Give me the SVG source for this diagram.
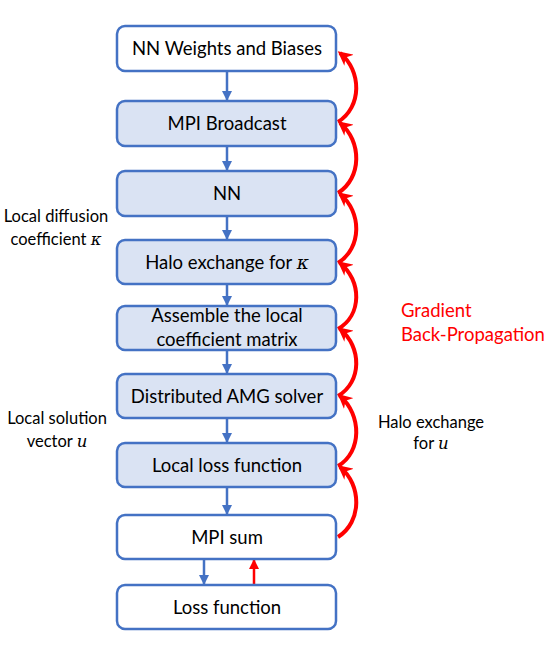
<svg xmlns="http://www.w3.org/2000/svg" width="554" height="656" viewBox="0 0 554 656">
<defs>
<marker id="bh" viewBox="0 0 10 10" refX="9" refY="5" markerWidth="4" markerHeight="4" orient="auto" markerUnits="strokeWidth"><path d="M0,0 L10,5 L0,10 Z" fill="#4472C4"/></marker>
<marker id="rh" viewBox="0 0 10 10" refX="8" refY="5" markerWidth="3.6" markerHeight="3.6" orient="auto" markerUnits="strokeWidth"><path d="M0,0 L10,5 L0,10 L3,5 Z" fill="#FF0000"/></marker>
<marker id="rh2" viewBox="0 0 10 10" refX="9" refY="5" markerWidth="4" markerHeight="4" orient="auto" markerUnits="strokeWidth"><path d="M0,0 L10,5 L0,10 Z" fill="#FF0000"/></marker>
</defs>
<style>
.box{stroke:#4472C4;stroke-width:2.5;}
.w{fill:#FFFFFF;}
.b{fill:#DAE3F3;}
.t{font-family:Lato,"Liberation Sans",sans-serif;font-size:18.5px;fill:#000;text-anchor:middle;}
.s{font-family:Lato,"Liberation Sans",sans-serif;font-size:16.5px;fill:#000;text-anchor:middle;}
.r{font-family:Lato,"Liberation Sans",sans-serif;font-size:18.5px;fill:#FF0000;}
.m{font-family:"DejaVu Serif","Liberation Serif",serif;font-style:italic;}
.ba{stroke:#4472C4;stroke-width:2.5;fill:none;marker-end:url(#bh);}
.ra{stroke:#FF0000;stroke-width:4;fill:none;marker-end:url(#rh);}
</style>
<rect width="554" height="656" fill="#FFFFFF"/>
<g id="connectors">
<line class="ba" x1="227" y1="71" x2="227" y2="100"/>
<line class="ba" x1="227" y1="146" x2="227" y2="170"/>
<line class="ba" x1="227" y1="216" x2="227" y2="239"/>
<line class="ba" x1="227" y1="284" x2="227" y2="305"/>
<line class="ba" x1="227" y1="350" x2="227" y2="373"/>
<line class="ba" x1="227" y1="418" x2="227" y2="442"/>
<line class="ba" x1="227" y1="487" x2="227" y2="514"/>
<line class="ba" x1="204" y1="559" x2="204" y2="584"/>
<line stroke="#FF0000" stroke-width="2.5" marker-end="url(#rh2)" x1="254" y1="585" x2="254" y2="560"/>
<path class="ra" d="M338,537 C362,522 362,485 340,467"/>
<path class="ra" d="M338,466 C362,452 362,415 340,396"/>
<path class="ra" d="M338,396 C362,382 362,347 340,329"/>
<path class="ra" d="M338,329 C362,315 362,281 340,263"/>
<path class="ra" d="M338,263 C362,248 362,212 340,194"/>
<path class="ra" d="M338,193 C362,178 362,141 340,123"/>
<path class="ra" d="M338,122 C362,107 362,71 340,53"/>
</g>
<g id="n1"><rect class="box w" x="117" y="26" width="219" height="45" rx="8"/><text class="t" x="227" y="55">NN Weights and Biases</text></g>
<g id="n2"><rect class="box b" x="117" y="101" width="219" height="45" rx="8"/><text class="t" x="227" y="130">MPI Broadcast</text></g>
<g id="n3"><rect class="box b" x="117" y="171" width="219" height="45" rx="8"/><text class="t" x="227" y="200">NN</text></g>
<g id="n4"><rect class="box b" x="117" y="240" width="219" height="44" rx="8"/><text class="t" x="227" y="268.5">Halo exchange for <tspan class="m">κ</tspan></text></g>
<g id="n5"><rect class="box b" x="117" y="306" width="219" height="44" rx="8"/><text class="t" x="227" y="322">Assemble the local</text><text class="t" x="227" y="345.5">coefficient matrix</text></g>
<g id="n6"><rect class="box b" x="117" y="374" width="219" height="44" rx="8"/><text class="t" x="227" y="402.5">Distributed AMG solver</text></g>
<g id="n7"><rect class="box b" x="117" y="443" width="219" height="44" rx="8"/><text class="t" x="227" y="471.5">Local loss function</text></g>
<g id="n8"><rect class="box w" x="117" y="515" width="219" height="44" rx="8"/><text class="t" x="227" y="543.5">MPI sum</text></g>
<g id="n9"><rect class="box w" x="117" y="585" width="219" height="44" rx="8"/><text class="t" x="227" y="613.5">Loss function</text></g>
<g id="labels">
<text class="s" x="56" y="222">Local diffusion</text>
<text class="s" x="56" y="245">coefficient <tspan class="m">κ</tspan></text>
<text class="s" x="57" y="424">Local solution</text>
<text class="s" x="57" y="447">vector <tspan class="m">u</tspan></text>
<text class="s" x="431" y="428">Halo exchange</text>
<text class="s" x="431" y="449">for <tspan class="m">u</tspan></text>
<text class="r" x="401" y="317">Gradient</text>
<text class="r" x="401" y="341">Back-Propagation</text>
</g>
</svg>
